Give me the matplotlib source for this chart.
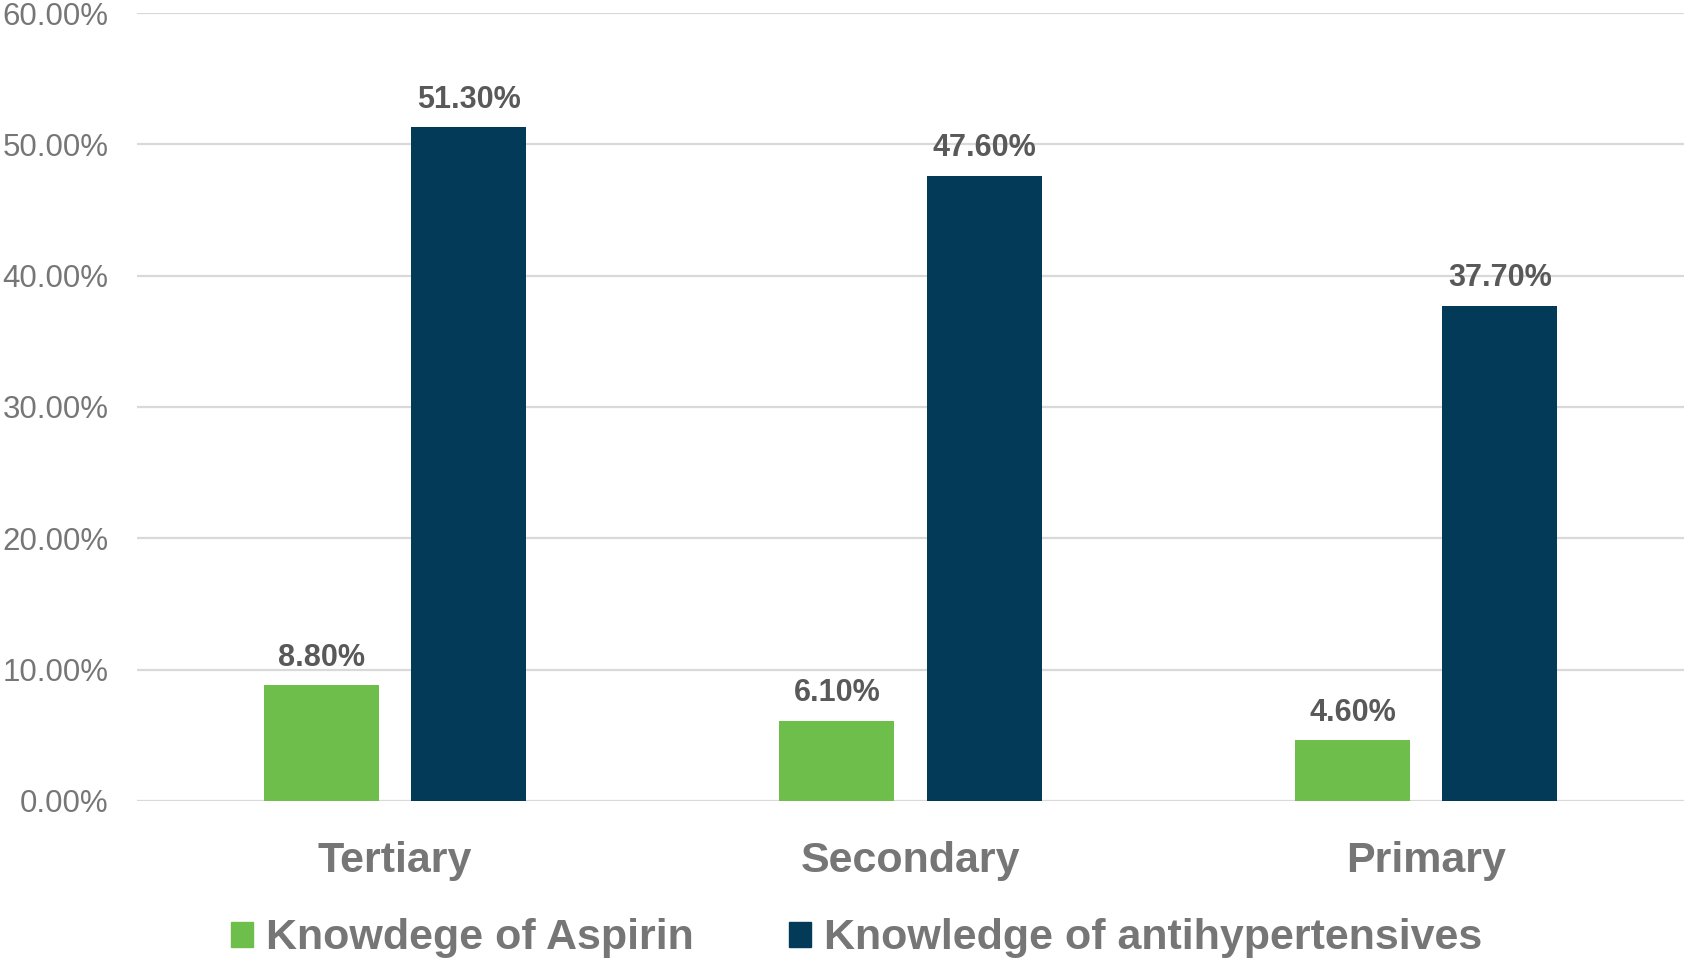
import matplotlib
matplotlib.use("Agg")
import matplotlib.pyplot as plt
from matplotlib.patches import Patch
import numpy as np

categories = ["Tertiary", "Secondary", "Primary"]
aspirin = [8.80, 6.10, 4.60]
antihypertensives = [51.30, 47.60, 37.70]
series_names = ["Knowdege of Aspirin", "Knowledge of antihypertensives"]
yticks = [0, 10, 20, 30, 40, 50, 60]

green = "#6DBE4B"
navy = "#033A57"
text_grey = "#767676"
label_grey = "#595959"

fig = plt.figure(figsize=(16.84, 9.66), dpi=100)
ax = fig.add_axes([0.0814, 0.171, 0.9186, 0.8155])

x = np.arange(len(categories))
w = 0.223
off = 0.143
b1 = ax.bar(x - off, aspirin, w, color=green, zorder=3)
b2 = ax.bar(x + off, antihypertensives, w, color=navy, zorder=3)

for bars, vals in ((b1, aspirin), (b2, antihypertensives)):
    for r, v in zip(bars, vals):
        ax.annotate(f"{v:.2f}%", (r.get_x() + r.get_width() / 2, v),
                    xytext=(0, 9), textcoords="offset points",
                    ha="center", va="bottom", fontsize=22,
                    color=label_grey, family="Liberation Sans", fontweight="bold")

ax.set_xlim(-0.5, 2.5)
ax.set_ylim(0, 60)
ax.set_yticks(yticks)
ax.set_yticklabels([f"{t:.2f}%" for t in yticks], fontsize=22.5,
                   color=text_grey, family="Liberation Sans")
ax.set_xticks(x)
ax.set_xticklabels(categories, fontsize=31, color=text_grey,
                   family="Liberation Sans", fontweight="bold")
ax.tick_params(axis="both", length=0)
ax.tick_params(axis="y", pad=20.5)
ax.tick_params(axis="x", pad=29)
ax.grid(axis="y", color="#D9D9D9", linewidth=1.6, zorder=0)
for s in ax.spines.values():
    s.set_visible(False)

handles = [Patch(color=green), Patch(color=navy)]
fig.legend(handles, series_names, loc="center", bbox_to_anchor=(0.5086, 0.0285),
           ncol=2, frameon=False, handlelength=0.52, handleheight=0.52,
           handletextpad=0.3, columnspacing=2.2,
           prop={"family": "Liberation Sans", "size": 31, "weight": "bold"},
           labelcolor=text_grey)

fig.savefig("out.png", dpi=100)
